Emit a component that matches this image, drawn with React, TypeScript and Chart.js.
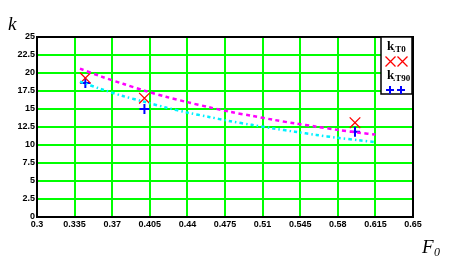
import React, { useEffect, useRef } from "react";
import { Chart, registerables } from "chart.js";

Chart.register(...registerables);

// Measured points
const f0Points = [0.345, 0.4, 0.596];
const kT0 = [19.3, 16.5, 13.1];
const kT90 = [18.6, 15.0, 11.85];

// Fitted curves
const curveF0 = [0.34, 0.36, 0.38, 0.4, 0.42, 0.44, 0.46, 0.48, 0.5, 0.52, 0.54, 0.56, 0.58, 0.6, 0.615];
const kT0Curve = [20.6, 19.5, 18.5, 17.55, 16.7, 15.95, 15.25, 14.6, 14.05, 13.5, 13.0, 12.55, 12.1, 11.7, 11.45];
const kT90Curve = [18.8, 17.75, 16.8, 16.0, 15.2, 14.5, 13.9, 13.3, 12.8, 12.3, 11.85, 11.4, 11.0, 10.65, 10.4];

// Ticks
const xTicks = [0.3, 0.335, 0.37, 0.405, 0.44, 0.475, 0.51, 0.545, 0.58, 0.615, 0.65];
const xTickLabels = ["0.3", "0.335", "0.37", "0.405", "0.44", "0.475", "0.51", "0.545", "0.58", "0.615", "0.65"];
const yTicks = [0, 2.5, 5, 7.5, 10, 12.5, 15, 17.5, 20, 22.5, 25];
const yTickLabels = ["0", "2.5", "5", "7.5", "10", "12.5", "15", "17.5", "20", "22.5", "25"];

const pts = (xs: number[], ys: number[]) => xs.map((x, i) => ({ x, y: ys[i] }));

const drawX = (ctx: CanvasRenderingContext2D, cx: number, cy: number, r: number) => {
  ctx.beginPath();
  ctx.moveTo(cx - r, cy - r);
  ctx.lineTo(cx + r, cy + r);
  ctx.moveTo(cx + r, cy - r);
  ctx.lineTo(cx - r, cy + r);
  ctx.stroke();
};
const drawPlus = (ctx: CanvasRenderingContext2D, cx: number, cy: number, r: number) => {
  ctx.beginPath();
  ctx.moveTo(cx - r, cy);
  ctx.lineTo(cx + r, cy);
  ctx.moveTo(cx, cy - r);
  ctx.lineTo(cx, cy + r);
  ctx.stroke();
};

const decorPlugin = {
  id: "decor",
  afterDraw(chart: any) {
    const ctx: CanvasRenderingContext2D = chart.ctx;
    const a = chart.chartArea;
    ctx.save();
    // frame
    ctx.strokeStyle = "#000";
    ctx.lineWidth = 2;
    ctx.strokeRect(a.left, a.top, a.right - a.left, a.bottom - a.top);

    // axis titles
    ctx.fillStyle = "#000";
    ctx.textBaseline = "alphabetic";
    ctx.textAlign = "left";
    ctx.font = "italic 19px 'Liberation Serif'";
    ctx.fillText("k", 8, 30);
    ctx.fillText("F", 422, 253);
    ctx.font = "italic 12px 'Liberation Serif'";
    ctx.fillText("0", 434, 256);

    // legend box
    const lx = a.right - 32;
    const ly = a.top;
    const lw = 31;
    const lh = 57;
    ctx.fillStyle = "#fff";
    ctx.fillRect(lx, ly, lw, lh);
    ctx.strokeStyle = "#000";
    ctx.lineWidth = 1.5;
    ctx.strokeRect(lx, ly, lw, lh);

    ctx.fillStyle = "#000";
    ctx.font = "bold 13px 'Liberation Serif'";
    ctx.fillText("k", lx + 6, ly + 13);
    ctx.fillText("k", lx + 6, ly + 42);
    ctx.font = "bold 9px 'Liberation Serif'";
    ctx.fillText(".T0", lx + 12, ly + 15);
    ctx.fillText(".T90", lx + 12, ly + 44);

    ctx.strokeStyle = "#ff0000";
    ctx.lineWidth = 1.3;
    drawX(ctx, lx + 9.5, ly + 24.5, 5);
    drawX(ctx, lx + 21.5, ly + 24.5, 5);
    ctx.strokeStyle = "#0000ff";
    ctx.lineWidth = 2;
    drawPlus(ctx, lx + 9, ly + 53, 4);
    drawPlus(ctx, lx + 20, ly + 53, 4);
    ctx.restore();
  },
};

export default function App() {
  const ref = useRef<HTMLCanvasElement>(null);
  useEffect(() => {
    if (!ref.current) return;
    const tickFont = { family: "'Liberation Sans'", size: 9, weight: "bold" as const };
    const chart = new Chart(ref.current, {
      type: "scatter",
      data: {
        datasets: [
          {
            data: pts(curveF0, kT0Curve),
            showLine: true,
            borderColor: "#ff00ff",
            borderWidth: 2.5,
            borderDash: [4, 3.5],
            pointRadius: 0,
            tension: 0.3,
          },
          {
            data: pts(curveF0, kT90Curve),
            showLine: true,
            borderColor: "#00f0ff",
            borderWidth: 2.5,
            borderDash: [3.5, 3, 1.5, 3],
            pointRadius: 0,
            tension: 0.3,
          },
          {
            data: pts(f0Points, kT0),
            pointStyle: "crossRot",
            pointRadius: 7.5,
            borderColor: "#ff0000",
            backgroundColor: "#ff0000",
            borderWidth: 1.3,
          },
          {
            data: pts(f0Points, kT90),
            pointStyle: "cross",
            pointRadius: 5,
            borderColor: "#0000ff",
            backgroundColor: "#0000ff",
            borderWidth: 2,
          },
        ],
      },
      options: {
        responsive: false,
        animation: false,
        layout: { padding: { left: 0, top: 37, right: 36, bottom: 0 } },
        plugins: { legend: { display: false }, tooltip: { enabled: false } },
        scales: {
          x: {
            type: "linear",
            min: 0.3,
            max: 0.65,
            afterBuildTicks: (s: any) => {
              s.ticks = xTicks.map((v) => ({ value: v }));
            },
            afterFit: (s: any) => {
              s.height = 46;
            },
            ticks: {
              callback: (_v: any, i: number) => xTickLabels[i],
              font: tickFont,
              color: "#000",
              padding: 2,
              maxRotation: 0,
              autoSkip: false,
            },
            grid: { color: "#00ff00", lineWidth: 2, drawTicks: false },
            border: { display: true, color: "#000", width: 2 },
          },
          y: {
            type: "linear",
            min: 0,
            max: 25,
            afterBuildTicks: (s: any) => {
              s.ticks = yTicks.map((v) => ({ value: v }));
            },
            afterFit: (s: any) => {
              s.width = 37;
            },
            ticks: {
              callback: (_v: any, i: number) => yTickLabels[i],
              font: tickFont,
              color: "#000",
              padding: 2,
              autoSkip: false,
            },
            grid: { color: "#00ff00", lineWidth: 2, drawTicks: false },
            border: { display: true, color: "#000", width: 2 },
          },
        },
      },
      plugins: [decorPlugin],
    });
    return () => chart.destroy();
  }, []);
  return (
    <div style={{ position: "absolute", left: 0, top: 0, width: 449, height: 263, background: "#fff" }}>
      <canvas ref={ref} width={449} height={263} style={{ display: "block" }} />
    </div>
  );
}
